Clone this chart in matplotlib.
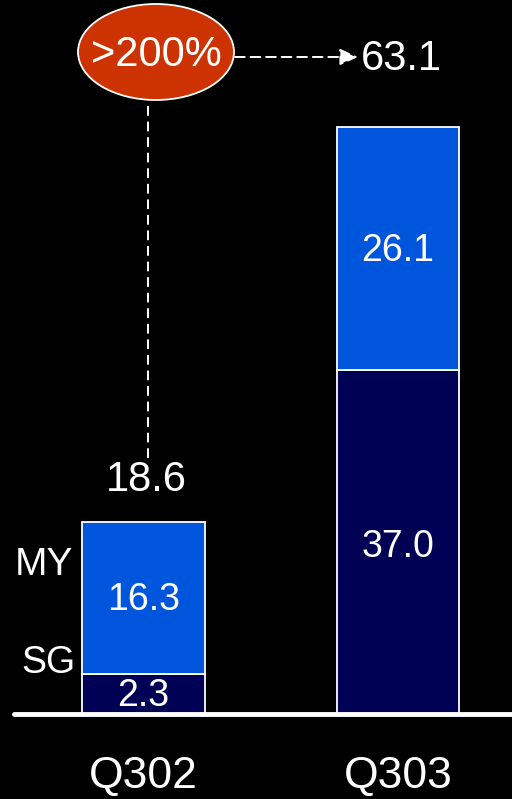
import matplotlib
matplotlib.use("Agg")
import matplotlib.pyplot as plt
from matplotlib.patches import Ellipse
import matplotlib.transforms as mtransforms

# ---- data ----
quarters = ["Q302", "Q303"]
sg_values = [2.3, 37.0]
my_values = [16.3, 26.1]
totals = [18.6, 63.1]
series_names = ["SG", "MY"]
growth_label = ">200%"

# ---- style ----
C_SG = "#000055"
C_MY = "#0055DD"
C_OVAL = "#CC3300"
FONT = "Liberation Sans"
MIN_SEG = 4.3  # minimum displayed segment height so thin segments stay legible

PX_PER_X = 254.5
PX_PER_Y = 9.3
BASE_PX = 714
W, H = 512, 799

fig = plt.figure(figsize=(W / 100, H / 100), dpi=100, facecolor="black")
ax = fig.add_axes([0, 0, 1, 1])
ax.set_facecolor("black")
x0_px = 143.5
ax.set_xlim(-x0_px / PX_PER_X, (W - x0_px) / PX_PER_X)
ax.set_ylim(-(H - BASE_PX) / PX_PER_Y, BASE_PX / PX_PER_Y)
ax.axis("off")

# text nudged ~2px down to compensate for bbox centring
tdown = ax.transData + mtransforms.ScaledTranslation(0, -2 / 100, fig.dpi_scale_trans)


def px(xp, yp):
    return (xp - x0_px) / PX_PER_X, (BASE_PX - yp) / PX_PER_Y


xs = list(range(len(quarters)))
sg_disp = [max(v, MIN_SEG) for v in sg_values]
width = 123 / PX_PER_X
ax.bar(xs, sg_disp, width=width, color=C_SG, edgecolor="white", linewidth=1.3, zorder=2)
ax.bar(xs, my_values, width=width, bottom=sg_disp, color=C_MY, edgecolor="white",
       linewidth=1.3, zorder=2)

fs = 27
for i in xs:
    dy = 0.3 if sg_values[i] > MIN_SEG else 0
    ax.text(i, sg_disp[i] / 2 - dy, f"{sg_values[i]:.1f}", color="white", ha="center",
            va="center", fontsize=fs, family=FONT, zorder=3, transform=tdown)
    ax.text(i, sg_disp[i] + my_values[i] / 2, f"{my_values[i]:.1f}", color="white",
            ha="center", va="center", fontsize=fs, family=FONT, zorder=3, transform=tdown)
    ax.text(i, -(775 - BASE_PX) / PX_PER_Y, quarters[i], color="white", ha="center",
            va="center", fontsize=32, family=FONT, transform=tdown)

# baseline
bx0, _ = px(14, 0)
ax.plot([bx0, ax.get_xlim()[1]], [0, 0], color="white", lw=3.5, solid_capstyle="round",
        zorder=4)

# series labels to the left of first bar
ax.text(px(48, 0)[0], (714 - 661) / PX_PER_Y, series_names[0],
        color="white", ha="center", va="center", fontsize=27, family=FONT, transform=tdown)
ax.text(px(44, 0)[0], (714 - 563) / PX_PER_Y,
        series_names[1], color="white", ha="center", va="center", fontsize=28, family=FONT,
        transform=tdown)

# total of first bar
top0 = sg_disp[0] + my_values[0]
ax.text(px(146, 0)[0], top0 + (521 - 477) / PX_PER_Y, f"{totals[0]:.1f}", color="white",
        ha="center", va="center", fontsize=30, family=FONT, transform=tdown)

# growth oval
ecx, ecy = px(156, 52)
ell = Ellipse((ecx, ecy), 156 / PX_PER_X, 96 / PX_PER_Y, facecolor=C_OVAL,
              edgecolor="white", lw=1.3, zorder=5)
ax.add_patch(ell)
ax.text(ecx, px(0, 55)[1], growth_label, color="white", ha="center", va="center",
        fontsize=30, family=FONT, zorder=6)

# dashed vertical connector
vx, vy1 = px(148, 100)
_, vy2 = px(148, 458)
ax.plot([vx, vx], [vy2, vy1], color="white", lw=1.4, ls=(0, (5, 3)), zorder=4)

# dashed arrow to total of second bar
ax1, ay = px(235, 57)
ax2, _ = px(358, 57)
ax.annotate("", xy=(ax2, ay), xytext=(ax1, ay),
            arrowprops=dict(arrowstyle="-|>,head_length=1.1,head_width=0.5",
                            color="white", lw=1.4, ls=(0, (5, 3)),
                            shrinkA=0, shrinkB=0), zorder=4)
tx, ty = px(361, 59)
ax.text(tx, ty, f"{totals[1]:.1f}", color="white", ha="left", va="center", fontsize=30,
        family=FONT)

fig.savefig("out.png", dpi=100, facecolor="black")
